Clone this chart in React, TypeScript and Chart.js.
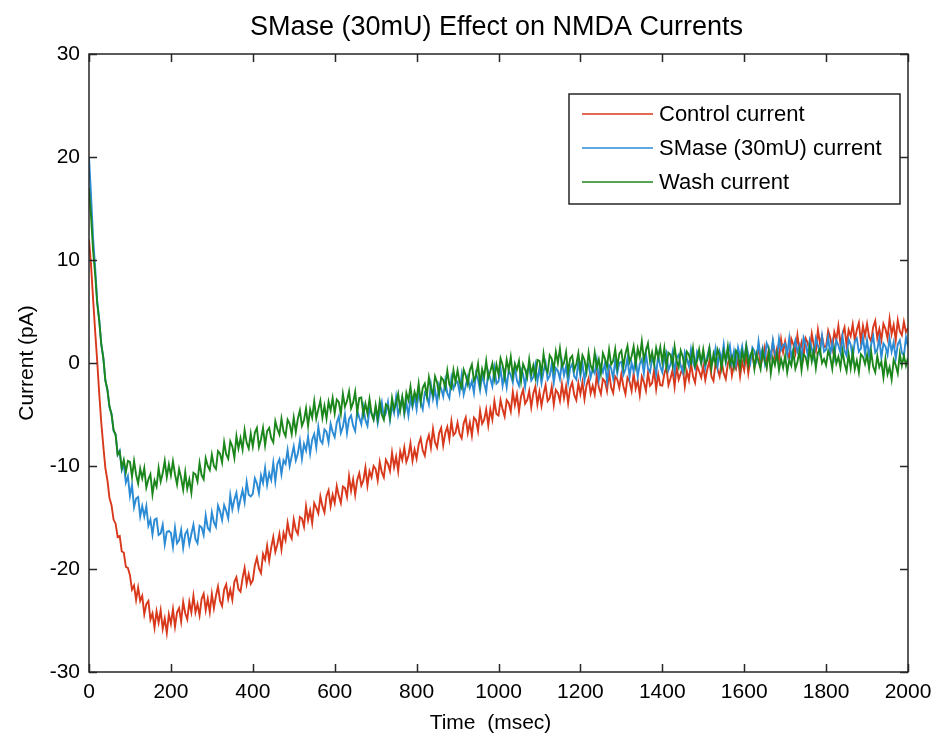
import React, { useEffect, useRef } from 'react';
import { Chart, registerables } from 'chart.js';

Chart.register(...registerables);

const chartTitle = 'SMase (30mU) Effect on NMDA Currents';
const xAxisTitle = 'Time  (msec)';
const yAxisTitle = 'Current (pA)';
const seriesNames = ['Control current', 'SMase (30mU) current', 'Wash current'];
const seriesColors = ['#d8391c', '#2b8bd4', '#1b861b'];

const sampleStepMs = 5;
const xRange = [0, 2000];
const yRange = [-30, 30];
const xTickStep = 200;
const yTickStep = 10;

// Control current (pA), one value per 5 ms from 0 to 2000 ms (one row = 100 ms)
const controlCurrent = [
  12, 9.5, 6.2, 3.1, 0.2, -3.0, -5.8, -8.1, -10.2, -11.4, -13.1, -13.8, -15.2, -15.6, -16.9, -16.8, -18.3, -18.4, -19.8, -19.9,
  -20.6, -22.0, -21.6, -23.0, -21.8, -23.1, -22.6, -24.4, -23.4, -23.1, -24.9, -24.3, -25.7, -24.1, -25.2, -24.0, -25.8, -24.8, -26.2, -24.4,
  -25.3, -23.9, -25.6, -24.2, -23.8, -25.1, -23.2, -24.3, -24.9, -23.2, -24.2, -22.6, -24.2, -23.4, -24.5, -22.9, -22.4, -24.0, -22.9, -24.2,
  -22.4, -23.8, -22.6, -21.7, -23.1, -23.6, -22.0, -21.5, -22.9, -22.0, -23.0, -21.25, -20.8, -21.95, -22.2, -20.9, -19.9, -21.45, -20.5, -21.45,
  -21.1, -19.65, -18.9, -19.95, -20.4, -18.55, -19.1, -17.75, -19.2, -17.9, -16.9, -18.35, -17.6, -16.6, -18.1, -16.5, -17.2, -15.5, -16.6, -17.05,
  -15.2, -16.2, -16.6, -14.95, -15.1, -15.9, -13.9, -15.25, -14.3, -15.55, -13.6, -14.05, -14.6, -12.95, -13.9, -14.5, -12.9, -12.35, -13.9, -12.8,
  -13.6, -11.95, -12.9, -13.6, -12.0, -12.15, -13.0, -11.0, -12.4, -11.3, -12.8, -11.35, -10.7, -11.9, -11.4, -10.15, -11.9, -10.5, -11.1, -10.0,
  -10.3, -11.4, -9.6, -10.6, -11.1, -9.4, -9.8, -10.5, -8.7, -10.1, -9.1, -10.5, -8.6, -9.4, -8.2, -9.6, -9.0, -7.8, -9.5, -8.4,
  -9.3, -7.9, -7.3, -8.5, -9.0, -7.65, -7.0, -8.2, -6.4, -7.7, -8.2, -6.8, -6.3, -8.0, -6.8, -6.2, -7.4, -5.65, -7.0, -6.75,
  -5.8, -6.9, -7.3, -5.85, -5.3, -6.8, -5.8, -7.05, -5.3, -5.55, -6.6, -4.65, -5.9, -5.5, -4.5, -6.05, -4.5, -5.5, -3.7, -4.95,
  -5.1, -3.6, -4.5, -5.2, -3.6, -3.9, -4.7, -2.8, -4.1, -3.05, -4.7, -3.25, -2.6, -3.95, -3.6, -2.7, -4.3, -2.95, -2.3, -4.0,
  -2.8, -4.15, -3.0, -2.15, -3.7, -3.4, -2.3, -4.05, -2.6, -2.9, -3.7, -2.05, -3.4, -2.25, -3.9, -2.45, -1.9, -3.1, -3.6, -1.95,
  -3.0, -1.85, -3.5, -2.15, -1.5, -2.95, -2.2, -3.05, -1.2, -2.35, -3.0, -1.55, -1.8, -2.7, -0.9, -2.35, -2.9, -1.3, -1.6, -2.4,
  -1.1, -2.25, -3.0, -1.4, -1.8, -2.7, -1.0, -2.5, -1.7, -3.1, -1.3, -1.85, -2.7, -0.95, -2.2, -1.95, -0.7, -2.55, -1.1, -2.15,
  -2.2, -1.05, -0.4, -2.15, -1.5, -0.7, -2.3, -0.35, -1.6, -1.0, -0.4, -2.25, -0.8, -1.65, 0.0, -1.3, -1.9, -0.25, -0.8, -1.4,
  -0.3, -1.65, -0.6, 0.2, -1.3, -1.75, 0.0, -0.6, -1.3, 0.2, -1.0, -1.55, -0.1, 0.55, -1.2, -0.15, -0.6, 0.45, -1.3, 0.15,
  -0.7, 0.8, -1.0, 0.4, 0.8, -0.4, 0.5, 1.5, -0.2, 0.5, 1.5, -0.25, 1.3, 0.6, 2.0, 0.55, 1.4, 0.35, 2.3, 1.05,
  2.1, 1.05, 0.5, 2.35, 1.8, 0.95, 2.7, 1.2, 2.0, 0.65, 2.4, 1.95, 1.1, 2.85, 1.7, 1.15, 3.2, 1.9, 2.6, 1.55,
  1.6, 3.15, 2.5, 1.4, 3.0, 2.25, 3.6, 1.85, 2.8, 3.45, 1.7, 3.2, 2.6, 3.75, 2.2, 3.2, 3.9, 2.05, 3.6, 2.6,
  3.8, 2.55, 2.1, 3.5, 4.1, 2.4, 3.3, 2.25, 3.8, 3.3, 2.4, 4.3, 2.8, 3.7, 2.2, 4.15, 3.1, 2.7, 4.0, 3.0,
  3.4,
];

// SMase (30mU) current (pA)
const smaseCurrent = [
  20, 16.2, 12.1, 9.3, 6.0, 4.2, 1.8, 0.5, -1.7, -2.6, -4.3, -4.9, -6.6, -6.9, -8.9, -8.5, -10.4, -9.8, -11.6, -11.0,
  -12.9, -11.85, -14.0, -13.15, -13.0, -14.9, -13.9, -14.9, -13.9, -15.8, -15.2, -16.65, -15.2, -15.1, -16.7, -16.55, -15.7, -17.6, -16.4, -16.3,
  -16.5, -17.85, -16.0, -17.5, -17.2, -16.2, -17.95, -16.6, -16.25, -17.6, -16.6, -15.7, -17.1, -17.5, -15.8, -15.95, -16.7, -14.8, -16.0, -16.3,
  -14.5, -15.45, -15.9, -13.85, -14.4, -15.25, -13.8, -14.35, -15.1, -12.85, -14.2, -13.25, -12.6, -14.15, -13.2, -12.35, -13.5, -11.55, -12.8, -12.95,
  -12.7, -11.2, -11.7, -12.65, -10.9, -11.65, -10.2, -11.85, -10.7, -11.35, -9.7, -11.5, -9.8, -9.35, -10.8, -9.45, -9.8, -8.45, -10.0, -9.05,
  -8.1, -9.45, -8.8, -7.55, -9.3, -7.85, -8.5, -7.15, -8.8, -7.45, -6.9, -8.2, -6.2, -7.5, -7.8, -6.45, -6.7, -7.7, -5.9, -6.7,
  -7.2, -5.8, -5.2, -6.8, -6.2, -5.0, -6.8, -5.45, -5.1, -6.1, -6.6, -4.65, -5.3, -5.95, -4.3, -5.55, -6.1, -4.45, -4.9, -5.45,
  -4.4, -5.85, -4.7, -3.8, -5.3, -4.85, -3.8, -5.55, -4.1, -4.85, -3.3, -5.05, -4.2, -3.35, -5.0, -3.85, -5.1, -3.45, -4.3, -3.2,
  -4.5, -2.9, -3.8, -4.5, -2.9, -3.2, -4.0, -2.1, -3.5, -2.6, -3.9, -2.05, -2.5, -3.25, -1.7, -2.95, -3.4, -1.45, -2.5, -1.95,
  -1.8, -2.85, -1.2, -3.05, -2.2, -1.35, -2.4, -1.75, -2.9, -1.0, -1.6, -2.65, -1.2, -1.95, -2.8, -0.85, -1.5, -2.25, -0.5, -2.0,
  -1.8, -0.55, -2.2, -1.0, -2.35, -0.7, -1.2, -1.9, -0.3, -1.7, -2.2, -0.6, -1.05, -2.3, -0.7, -0.4, -1.7, -1.35, -0.2, -1.8,
  -0.5, -1.95, -0.8, 0.0, -1.6, -1.25, -0.1, -1.9, -0.5, -0.75, -1.55, 0.1, -1.2, -0.3, -1.9, -0.5, -0.1, -1.3, -1.6, 0.2,
  -1.3, 0.05, -1.7, -0.4, -0.1, -1.4, -0.6, -1.0, 0.3, -1.6, -0.3, -0.9, 0.0, -1.8, -0.2, -0.5, -1.5, 0.25, -1.0, 0.0,
  0.1, -1.15, -0.6, 0.5, -1.35, 0.0, -0.8, 0.45, -1.3, -0.1, 0.35, -1.0, 0.9, -0.5, -0.9, 0.35, 0.0, -1.1, 0.8, -0.3,
  -0.9, 0.45, 1.0, -0.7, -0.15, 1.0, -0.9, 0.45, 0.8, -0.3, -0.9, 1.05, 0.4, -0.3, 1.3, 0.05, -0.5, 1.1, 0.6, 0.0,
  1.0, -0.45, 0.7, 1.5, -0.05, 0.3, 1.4, -0.35, 1.1, 0.3, 1.8, 0.05, 0.9, 1.7, 0.0, 1.15, -0.1, 1.5, 0.6, 1.6,
  0.2, 1.75, 0.8, 0.0, 1.5, 1.15, 0.3, 2.1, 0.6, 1.45, 0.1, 1.9, 1.4, 0.65, 2.2, 0.9, 0.4, 2.35, 1.25, 1.75,
  1.9, 0.8, 2.4, 0.55, 1.35, 2.2, 1.1, 1.7, 0.5, 2.45, 1.85, 0.75, 2.2, 1.4, 0.5, 2.4, 1.7, 0.9, 2.6, 1.1,
  1.3, 2.5, 0.8, 2.0, 0.6, 2.2, 1.7, 1.0, 2.6, 1.2, 0.7, 2.3, 1.8, 0.5, 2.1, 2.4, 1.1, 1.4, 2.5, 0.9,
  2.2, 0.7, 1.8, 2.6, 1.0, 1.3, 2.4, 0.5, 1.9, 1.6, 0.8, 2.4, 1.1, 2.0, 0.4, 1.8, 2.2, 1.0, 0.7, 2.5,
  1.6,
];

// Wash current (pA)
const washCurrent = [
  17, 14.2, 10.9, 8.6, 5.8, 4.1, 1.8, 0.5, -1.7, -2.6, -4.2, -5.0, -6.5, -7.0, -8.9, -8.6, -10.2, -9.4, -10.6, -9.5,
  -9.6, -11.05, -9.5, -10.85, -11.7, -10.25, -11.2, -10.2, -12.1, -11.3, -10.8, -12.75, -11.4, -12.0, -10.2, -11.5, -10.7, -9.5, -11.1, -9.85,
  -10.9, -9.55, -10.8, -11.8, -10.3, -11.15, -12.3, -10.6, -12.2, -11.3, -12.6, -10.65, -10.8, -11.5, -9.7, -10.9, -11.3, -9.25, -10.0, -10.4,
  -8.9, -10.0, -10.3, -8.55, -8.8, -9.65, -7.7, -8.85, -9.3, -7.6, -8.1, -9.2, -7.1, -8.3, -7.3, -8.4, -6.5, -7.75, -8.3, -6.85,
  -8.1, -6.75, -6.3, -8.15, -7.4, -6.3, -8.0, -6.6, -6.3, -7.3, -7.7, -5.65, -6.4, -6.95, -5.4, -6.65, -7.1, -5.5, -5.9, -6.9,
  -5.3, -6.7, -5.4, -4.6, -6.1, -5.55, -4.4, -6.1, -4.5, -5.3, -3.7, -5.4, -4.5, -3.65, -5.3, -4.15, -5.4, -3.75, -4.6, -3.4,
  -4.9, -3.55, -3.8, -4.95, -3.0, -4.25, -3.7, -2.75, -4.4, -3.85, -2.8, -4.8, -3.4, -3.35, -5.0, -3.95, -4.9, -3.5, -4.9, -5.5,
  -4.1, -5.4, -3.75, -5.0, -5.5, -4.0, -4.2, -5.3, -3.4, -4.5, -3.9, -3.0, -4.6, -3.3, -4.7, -2.9, -3.6, -2.3, -3.9, -2.8,
  -3.5, -2.0, -3.8, -2.4, -2.0, -3.2, -1.4, -2.5, -3.1, -1.3, -1.9, -3.05, -1.4, -1.65, -2.4, -0.75, -2.1, -2.45, -0.7, -1.85,
  -0.7, -1.85, -2.4, -0.65, -1.2, -2.05, -0.7, -0.15, -1.7, -1.25, -0.1, -2.05, -0.6, -1.35, 0.2, -1.45, -0.8, -0.05, -1.5, -0.15,
  -1.1, 0.45, -0.2, -1.4, 0.3, -0.7, 0.6, -1.25, -0.1, -0.65, 0.2, -1.75, -0.1, -0.6, -1.4, 0.35, -1.1, -0.25, -1.4, 0.3,
  0.2, -1.0, 0.9, -0.5, -0.9, 0.75, 0.4, -0.65, 1.1, 0.0, 1.4, -0.35, 0.0, 1.05, -0.9, 0.45, 0.7, -0.7, -0.1, 0.95,
  -0.7, 0.75, 0.3, -0.85, 1.0, -0.25, -0.7, 1.0, -0.4, 0.35, -1.0, 0.95, 0.4, -0.35, 1.3, -0.15, 0.2, 1.35, -0.4, 0.9,
  1.2, -0.35, 0.9, 1.65, 0.1, 0.65, 1.6, -0.15, 1.4, 0.55, 2.1, 0.3, 1.2, 1.9, 0.2, 1.05, -0.1, 1.45, 0.5, 1.55,
  0.1, 1.45, -0.4, 1.0, 0.8, -0.2, 1.6, 0.25, -0.4, 1.2, 0.6, -0.6, 1.1, 0.8, 0.0, 1.45, -0.3, 0.2, 1.3, 0.0,
  1.3, -0.1, 0.3, 1.4, -0.5, 0.85, -0.1, 1.3, 0.7, -0.5, 1.1, 0.2, 1.6, -0.2, 0.6, -0.4, 1.2, 0.85, -0.4, 1.1,
  0.2, 1.6, -0.2, 0.75, 1.2, -0.55, 0.9, 0.15, -0.6, 1.15, 0.3, -0.45, 1.1, -1.0, 0.5, -0.2, 0.9, -0.7, 0.4, -0.45,
  0.7, -0.9, 0.3, -0.25, 1.1, -0.55, 0.1, 1.15, -0.7, 0.85, 0.6, -0.35, 1.5, 0.15, 1.2, -0.5, 1.0, 1.4, 0.0, 0.4,
  -0.2, 1.15, 0.6, -0.55, 1.3, -0.05, 0.6, -0.45, 1.2, -0.05, -0.8, 0.85, -0.5, 1.1, -0.6, 0.25, -0.9, 0.85, 0.6, -0.1,
  0.8, -0.55, 1.1, -0.35, -0.9, 0.7, -0.4, 0.1, -1.4, 0.4, -1.1, -0.4, -1.6, 0.3, -0.2, -1.0, 0.9, -0.25, 0.7, -0.25,
  0.5,
];

const FONT = '"Liberation Sans", Arial, Helvetica, sans-serif';
const AXIS_COLOR = '#262626';
const PLOT_RIGHT = 908;

const matlabFrame = {
  id: 'matlabFrame',
  afterDraw(chart: any) {
    const { ctx, chartArea: a, scales } = chart;
    const xs = scales.x;
    const ys = scales.y;
    ctx.save();

    // axes box
    ctx.strokeStyle = AXIS_COLOR;
    ctx.lineWidth = 1.5;
    ctx.strokeRect(a.left, a.top, a.right - a.left, a.bottom - a.top);

    // inward tick marks on all four sides
    const tl = 8;
    ctx.beginPath();
    xs.ticks.forEach((t: any) => {
      const px = Math.round(xs.getPixelForValue(t.value)) + 0.5;
      ctx.moveTo(px, a.bottom);
      ctx.lineTo(px, a.bottom - tl);
      ctx.moveTo(px, a.top);
      ctx.lineTo(px, a.top + tl);
    });
    ys.ticks.forEach((t: any) => {
      const py = Math.round(ys.getPixelForValue(t.value)) + 0.5;
      ctx.moveTo(a.left, py);
      ctx.lineTo(a.left + tl, py);
      ctx.moveTo(a.right, py);
      ctx.lineTo(a.right - tl, py);
    });
    ctx.stroke();

    // title
    ctx.fillStyle = '#000';
    ctx.font = `27px ${FONT}`;
    ctx.textAlign = 'center';
    ctx.textBaseline = 'alphabetic';
    ctx.fillText(chartTitle, (a.left + a.right) / 2 - 2, 35);

    // x axis title
    ctx.font = `21px ${FONT}`;
    ctx.fillText(xAxisTitle, (a.left + a.right) / 2 - 8, 729);

    // y axis title
    ctx.save();
    ctx.translate(33, (a.top + a.bottom) / 2);
    ctx.rotate(-Math.PI / 2);
    ctx.fillText(yAxisTitle, 0, 0);
    ctx.restore();

    // legend
    const lx = 569, ly = 94, lw = 331, lh = 110;
    ctx.fillStyle = '#fff';
    ctx.fillRect(lx, ly, lw, lh);
    ctx.strokeStyle = AXIS_COLOR;
    ctx.lineWidth = 1.5;
    ctx.strokeRect(lx, ly, lw, lh);
    const rows = [114, 148, 182];
    ctx.font = `22px ${FONT}`;
    ctx.textAlign = 'left';
    ctx.textBaseline = 'middle';
    seriesNames.forEach((name, i) => {
      ctx.strokeStyle = seriesColors[i];
      ctx.lineWidth = 1.5;
      ctx.beginPath();
      ctx.moveTo(582, rows[i]);
      ctx.lineTo(653, rows[i]);
      ctx.stroke();
      ctx.fillStyle = '#000';
      ctx.fillText(name, 659, rows[i] + 1);
    });

    ctx.restore();
  },
};

function toPoints(values: number[]) {
  return values.map((v, i) => ({ x: i * sampleStepMs, y: v }));
}

export default function App() {
  const canvasRef = useRef<HTMLCanvasElement | null>(null);

  useEffect(() => {
    const canvas = canvasRef.current;
    if (!canvas) return;
    const series = [controlCurrent, smaseCurrent, washCurrent];
    const chart = new Chart(canvas, {
      type: 'line',
      data: {
        datasets: series.map((vals, i) => ({
          label: seriesNames[i],
          data: toPoints(vals),
          borderColor: seriesColors[i],
          backgroundColor: seriesColors[i],
          borderWidth: 1.9,
          pointRadius: 0,
          tension: 0,
          fill: false,
          order: 3 - i,
        })),
      },
      plugins: [matlabFrame],
      options: {
        responsive: false,
        animation: false,
        devicePixelRatio: 1,
        events: [],
        layout: { padding: { top: 54, right: 935 - PLOT_RIGHT, left: 0, bottom: 0 } },
        plugins: {
          legend: { display: false },
          title: { display: false },
          tooltip: { enabled: false },
        },
        scales: {
          x: {
            type: 'linear',
            min: xRange[0],
            max: xRange[1],
            grid: { display: false, drawTicks: false },
            border: { display: false },
            ticks: {
              stepSize: xTickStep,
              padding: 8,
              color: '#000',
              font: { family: FONT, size: 21 },
              maxRotation: 0,
              autoSkip: false,
              callback: (v: any) => String(v),
            },
            afterFit: (scale: any) => {
              scale.height = 63;
              scale.paddingRight = 0;
              scale.paddingLeft = 0;
            },
          },
          y: {
            type: 'linear',
            min: yRange[0],
            max: yRange[1],
            grid: { display: false, drawTicks: false },
            border: { display: false },
            ticks: {
              stepSize: yTickStep,
              padding: 9,
              color: '#000',
              font: { family: FONT, size: 21 },
              callback: (v: any) => String(v),
            },
            afterFit: (scale: any) => {
              scale.width = 89;
              scale.paddingTop = 0;
              scale.paddingBottom = 0;
            },
          },
        },
      },
    });
    return () => chart.destroy();
  }, []);

  return (
    <div style={{ position: 'fixed', left: 0, top: 0, width: 935, height: 735, background: '#fff' }}>
      <canvas ref={canvasRef} width={935} height={735} style={{ display: 'block' }} />
    </div>
  );
}
